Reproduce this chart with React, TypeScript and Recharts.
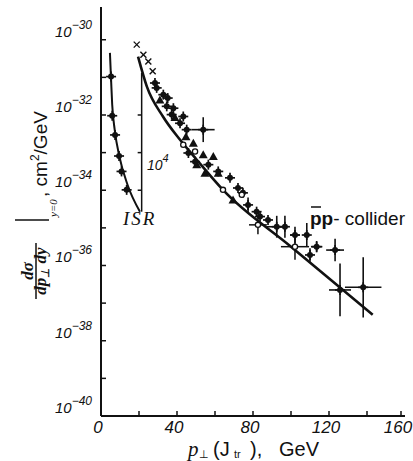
import { ComposedChart, Line, Scatter, ErrorBar, XAxis, YAxis, ReferenceLine } from 'recharts';

// values are log10 of the cross-section (cm^2/GeV), x is p_T in GeV
const isrPt = [5.3, 5.9, 7.4, 9.5, 10.8, 13.5];
const isrLog = [-30.98, -32.02, -32.53, -33.09, -33.5, -33.99];

const isrFitPt = [4.7, 5.3, 5.9, 7.2, 9.7, 14.0, 20.5];
const isrFitLog = [-30.35, -31.06, -31.73, -32.39, -33.11, -33.86, -34.57];

const fitPt = [19.5, 24.1, 32.6, 41.6, 50.4, 64.2, 100, 143];
const fitLog = [-30.45, -31.24, -32.04, -32.66, -33.19, -33.99, -35.5, -37.31];

const crossPt = [18.8, 22.3, 24.9, 27.2];
const crossLog = [-30.13, -30.4, -30.58, -30.84];

const starPt = [28.4, 29.3, 32.8, 35.1, 34.6, 38.1, 37.2, 43.3, 41.6, 45.1, 46.0, 49.5, 56.5, 61.7, 67.9, 72.1, 74.7, 81.9, 83.7, 87.9];
const starLog = [-31.15, -31.28, -31.46, -31.55, -31.77, -31.82, -31.99, -32.04, -32.22, -32.39, -33.01, -33.24, -33.32, -33.5, -33.67, -33.94, -34.07, -34.57, -34.7, -34.79];

const errPt = [53.8, 77.4, 92.5, 96.8, 102.1, 108.3, 110.0, 113.5, 123.2, 125.8, 138.0];
const errLog = [-32.39, -34.39, -34.97, -34.97, -35.19, -35.19, -35.72, -35.5, -35.59, -36.65, -36.58];
const errX = [6.0, 0, 5.3, 0, 2.5, 0, 0, 3.0, 4.7, 5.8, 9.6];
const errY = [0.33, 0.2, 0.29, 0.29, 0.22, 0.32, 0.18, 0.15, 0.3, 0.7, 0.8];

const triPt = [31.0, 38.9, 44.7, 48.6, 50.4, 53.8, 54.7, 59.1, 61.7, 69.5];
const triLog = [-31.6, -32.07, -32.58, -32.75, -33.32, -33.06, -33.55, -33.1, -33.55, -34.26];

const circPt = [43.3, 49.5, 64.2, 74.1, 82.6, 102.1];
const circLog = [-32.79, -32.97, -33.99, -34.12, -34.92, -35.5];
const circErrX = [0, 0, 0, 0, 4.7, 7.4];
const circErrY = [0, 0, 0, 0, 0.25, 0.35];

const xTicks = [0, 20, 40, 60, 80, 100, 120, 140, 160];
const yTicks = [-40, -39, -38, -37, -36, -35, -34, -33, -32, -31, -30];
const isrScaleTicks = [-32, -33, -34];

const ink = '#111';

const pts = (xs: number[], ys: number[]) => xs.map((x, i) => ({ x, y: ys[i] }));
const isrData = pts(isrPt, isrLog);
const isrFit = pts(isrFitPt, isrFitLog);
const fit = pts(fitPt, fitLog);
const crossData = pts(crossPt, crossLog);
const starData = pts(starPt, starLog);
const errData = errPt.map((x, i) => ({ x, y: errLog[i], ex: errX[i], ey: errY[i] }));
const triData = pts(triPt, triLog);
const circData = circPt.map((x, i) => ({ x, y: circLog[i], ex: circErrX[i], ey: circErrY[i] }));

const Star = ({ cx, cy }: any) => (
  <g>
    <line x1={cx - 5} x2={cx + 5} y1={cy} y2={cy} stroke={ink} strokeWidth={1.7} />
    <line x1={cx} x2={cx} y1={cy - 5} y2={cy + 5} stroke={ink} strokeWidth={1.7} />
    <circle cx={cx} cy={cy} r={3} fill={ink} />
  </g>
);

const Tri = ({ cx, cy }: any) => (
  <path d={`M${cx},${cy - 4.5}L${cx + 4.5},${cy + 3.5}L${cx - 4.5},${cy + 3.5}Z`} fill={ink} />
);

const Ring = ({ cx, cy }: any) => <circle cx={cx} cy={cy} r={2.6} fill="#fff" stroke={ink} strokeWidth={1.3} />;

const XMark = ({ cx, cy }: any) => (
  <g stroke={ink} strokeWidth={1.4}>
    <line x1={cx - 3} x2={cx + 3} y1={cy - 3} y2={cy + 3} />
    <line x1={cx - 3} x2={cx + 3} y1={cy + 3} y2={cy - 3} />
  </g>
);

const YTick = ({ x, y, payload }: any) => {
  const v = payload.value;
  return (
    <g>
      <line x1={x} x2={x + 5} y1={y} y2={y} stroke={ink} strokeWidth={1.5} />
      {v % 2 === 0 && (
        <text x={x - 46} y={y - 3} fontSize={15} fontStyle="italic" fontFamily="Liberation Sans" fill={ink}>
          10
          <tspan dy={-8} fontSize={12}>{`−${-v}`}</tspan>
        </text>
      )}
    </g>
  );
};

const XTick = ({ x, y, payload }: any) => {
  const v = payload.value;
  return (
    <g>
      <line x1={x} x2={x} y1={y} y2={y - 5} stroke={ink} strokeWidth={1.5} />
      {v % 40 === 0 && (
        <text x={x - 3} y={y + 17} textAnchor="middle" fontSize={17} fontStyle="italic" fontFamily="Liberation Sans" fill={ink}>
          {v}
        </text>
      )}
    </g>
  );
};

const serif = 'Liberation Serif';
const sans = 'Liberation Sans';

export default function App() {
  return (
    <div style={{ position: 'absolute', left: 0, top: 0, width: 413, height: 461, background: '#fff' }}>
      <ComposedChart width={413} height={461} margin={{ top: 7, right: 8, bottom: 0, left: 0 }}>
        <XAxis
          type="number"
          dataKey="x"
          domain={[0, 160]}
          ticks={xTicks}
          allowDataOverflow
          height={45}
          tickSize={0}
          tickMargin={0}
          tick={<XTick />}
          axisLine={{ stroke: ink, strokeWidth: 2 }}
        />
        <YAxis
          type="number"
          dataKey="y"
          domain={[-40, -29.13]}
          ticks={yTicks}
          allowDataOverflow
          width={101}
          tickSize={0}
          tickMargin={0}
          tick={<YTick />}
          axisLine={{ stroke: ink, strokeWidth: 2 }}
        />
        <ReferenceLine segment={[{ x: 21.4, y: -30.88 }, { x: 21.4, y: -34.57 }]} stroke={ink} strokeWidth={1.5} />
        {isrScaleTicks.map((t) => (
          <ReferenceLine key={t} segment={[{ x: 19.3, y: t }, { x: 21.4, y: t }]} stroke={ink} strokeWidth={1.5} />
        ))}
        <Line data={isrFit} dataKey="y" type="monotone" stroke={ink} strokeWidth={2} dot={false} isAnimationActive={false} />
        <Line data={fit} dataKey="y" type="monotone" stroke={ink} strokeWidth={2.6} dot={false} isAnimationActive={false} />
        <Scatter data={isrData} shape={<Star />} isAnimationActive={false} />
        <Scatter data={crossData} shape={<XMark />} isAnimationActive={false} />
        <Scatter data={triData} shape={<Tri />} isAnimationActive={false} />
        <Scatter data={starData} shape={<Star />} isAnimationActive={false} />
        <Scatter data={errData} shape={<Star />} isAnimationActive={false}>
          <ErrorBar dataKey="ey" direction="y" width={0} stroke={ink} strokeWidth={1.6} />
          <ErrorBar dataKey="ex" direction="x" width={0} stroke={ink} strokeWidth={1.6} />
        </Scatter>
        <Scatter data={circData} shape={<Ring />} isAnimationActive={false}>
          <ErrorBar dataKey="ey" direction="y" width={0} stroke={ink} strokeWidth={1.5} />
          <ErrorBar dataKey="ex" direction="x" width={0} stroke={ink} strokeWidth={1.5} />
        </Scatter>
      </ComposedChart>
      <svg width={413} height={461} style={{ position: 'absolute', left: 0, top: 0, pointerEvents: 'none' }}>
        {/* evaluation bar of the rotated y title, drawn in page coordinates */}
        <line x1={15} x2={49} y1={220} y2={220} stroke={ink} strokeWidth={1.5} />
        <g transform="translate(48,0) rotate(-90)" fill={ink}>
          <text x={-271} y={-15} textAnchor="middle" fontSize={17} fontStyle="italic" fontWeight="bold" fontFamily={serif}>dσ</text>
          <line x1={-299} x2={-243} y1={-12} y2={-12} stroke={ink} strokeWidth={1.5} />
          <text x={-271} y={-2} textAnchor="middle" fontSize={17} fontStyle="italic" fontWeight="bold" fontFamily={serif}>
            dp<tspan fontSize={11} dy={3}>⊥</tspan>
            <tspan dy={-3}> dy</tspan>
          </text>
          <text x={-217} y={9} fontSize={11} fontStyle="italic" fontFamily={serif}>y=0</text>
          <text x={-197} y={-1} fontSize={19} fontFamily={sans}>
            , cm<tspan dy={-8} fontSize={12}>2</tspan>
            <tspan dy={8}>/GeV</tspan>
          </text>
        </g>
        <text y={456} fill={ink} fontFamily={sans} fontSize={20}>
          <tspan x={188} fontFamily={serif} fontStyle="italic" fontSize={21}>p</tspan>
          <tspan x={199} fontSize={11} dy={2}>⊥</tspan>
          <tspan x={213} dy={-2}>(J</tspan>
          <tspan x={234} fontSize={11} dy={2}>tr</tspan>
          <tspan x={250} dy={-2}>),</tspan>
          <tspan x={279}>GeV</tspan>
        </text>
        <text x={123} y={225} fill={ink} fontFamily={serif} fontStyle="italic" fontSize={19} letterSpacing={2}>ISR</text>
        <text x={147} y={170} fill={ink} fontFamily={sans} fontStyle="italic" fontSize={14}>
          10<tspan dy={-8} fontSize={11}>4</tspan>
        </text>
        <text x={310} y={225} fill={ink} fontFamily={sans} fontSize={19}>
          <tspan fontWeight="bold">pp</tspan>- collider
        </text>
        <line x1={311} x2={321} y1={207} y2={207} stroke={ink} strokeWidth={1.5} />
      </svg>
    </div>
  );
}
